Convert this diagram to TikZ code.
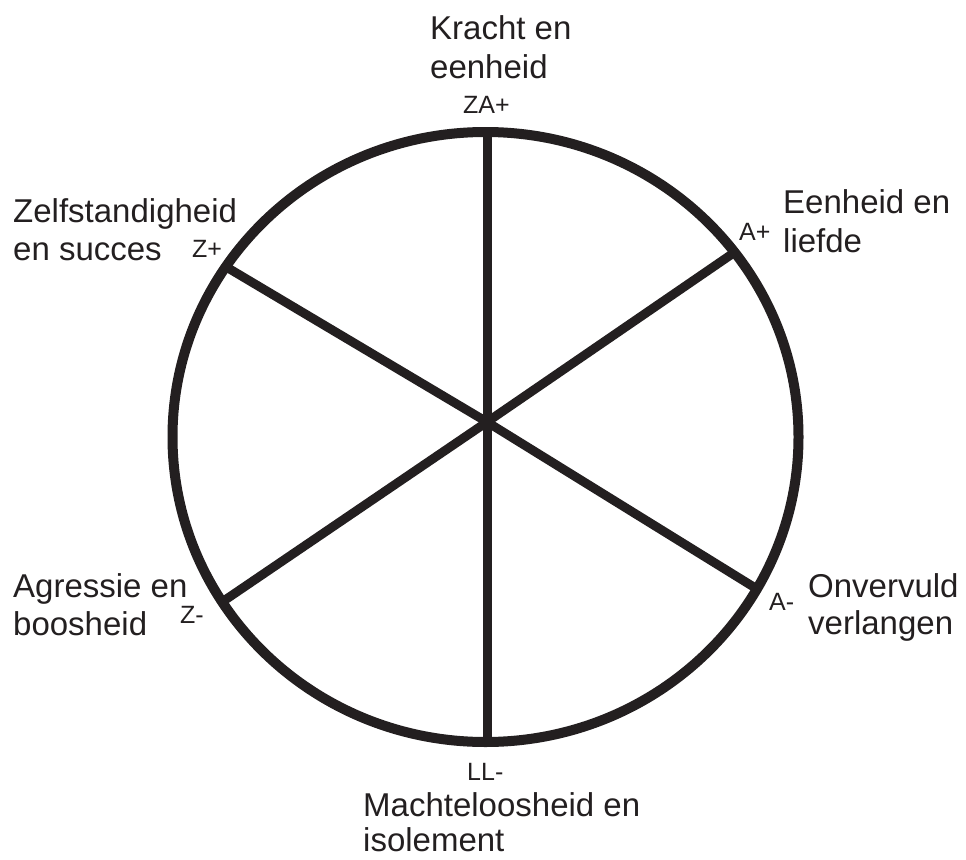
\documentclass[tikz,border=0pt]{standalone}
\usepackage{fontspec}
\setmainfont{Liberation Sans}
\definecolor{ink}{RGB}{35,31,32}
\begin{document}
\begin{tikzpicture}[x=1pt,y=-1pt,
  big/.style={anchor=base west,inner sep=0pt,text=ink,font=\fontsize{33}{38}\selectfont,align=left},
  small/.style={anchor=base west,inner sep=0pt,text=ink,font=\fontsize{25}{28}\selectfont},
  rim/.style={line width=10pt,draw=ink},
  spoke/.style={line width=9pt,draw=ink}]
\useasboundingbox (0,0) rectangle (966,859);
\coordinate (hub) at (487,422);
\coordinate (top) at (487,132);
\coordinate (bot) at (487,742);
\coordinate (ap) at (735,252);
\coordinate (am) at (757,589);
\coordinate (zp) at (228,268);
\coordinate (zm) at (225,600);
\draw[spoke] (top) -- (bot);
\draw[spoke] (zp) -- (hub) -- (am);
\draw[spoke] (zm) -- (hub) -- (ap);
\draw[rim] (485.5,437) ellipse [x radius=313, y radius=305];
\node[big] (t1) at (430,40) {Kracht en};
\node[big] (t2) at (430,78) {eenheid};
\node[small] (lza) at (463,113) {ZA+};
\node[big] (z1) at (13,222) {Zelfstandigheid};
\node[big] (z2) at (13,260) {en succes};
\node[small] (lzp) at (192,257) {Z+};
\node[big] (e1) at (783,213) {Eenheid en};
\node[big] (e2) at (783,252) {liefde};
\node[small] (lap) at (739,240) {A+};
\node[big] (g1) at (13,597) {Agressie en};
\node[big] (g2) at (13,635) {boosheid};
\node[small] (lzm) at (180,623) {Z-};
\node[big] (o1) at (808,597) {Onvervuld};
\node[big] (o2) at (808,634) {verlangen};
\node[small] (lam) at (769,610) {A-};
\node[small] (lll) at (467,780) {LL-};
\node[big] (m1) at (363,816) {Machteloosheid en};
\node[big] (m2) at (363,851) {isolement};
\end{tikzpicture}
\end{document}
